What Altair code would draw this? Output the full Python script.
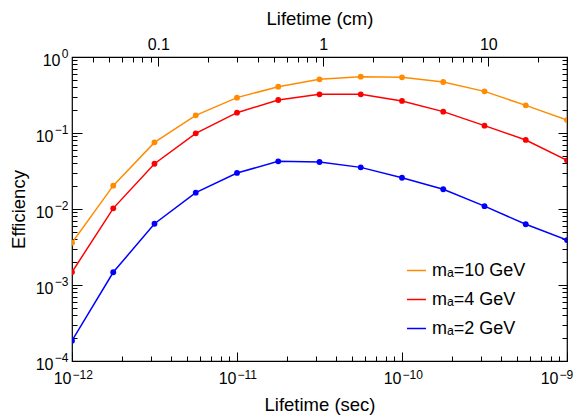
import altair as alt
import pandas as pd

# ---- data ----
lifetime_sec = [1e-12, 1.778e-12, 3.162e-12, 5.623e-12, 1e-11, 1.778e-11, 3.162e-11,
                5.623e-11, 1e-10, 1.778e-10, 3.162e-10, 5.623e-10, 1e-9]
eff_10gev = [3.6e-3, 0.0203, 0.0753, 0.171, 0.292, 0.407, 0.508, 0.551, 0.540, 0.469, 0.353, 0.231, 0.148]
eff_4gev = [1.48e-3, 0.0102, 0.0394, 0.099, 0.185, 0.272, 0.323, 0.323, 0.264, 0.191, 0.125, 0.081, 0.0437]
eff_2gev = [1.85e-4, 1.47e-3, 6.4e-3, 0.0164, 0.0298, 0.0424, 0.0415, 0.0353, 0.0258, 0.0182, 0.0109, 6.3e-3, 3.9e-3]

series_names = ["mₐ=10 GeV", "mₐ=4 GeV", "mₐ=2 GeV"]
series_colors = ["#ff8c00", "#ff0000", "#0000ff"]

x_major = [1e-12, 1e-11, 1e-10, 1e-9]
y_major = [1e-4, 1e-3, 1e-2, 1e-1, 1.0]
cm_major = [0.1, 1, 10]
cm_minor = [0.04, 0.05, 0.06, 0.07, 0.08, 0.09, 0.2, 0.3, 0.4, 0.5, 0.6, 0.7, 0.8, 0.9,
            2, 3, 4, 5, 6, 7, 8, 9, 20, 30]
C_CM_PER_SEC = 3e10

x_minor = [k * 10.0 ** e for e in (-12, -11, -10) for k in range(2, 10)]
y_minor = [k * 10.0 ** e for e in (-4, -3, -2, -1) for k in range(2, 10)]

rows = []
for name, vals in zip(series_names, [eff_10gev, eff_4gev, eff_2gev]):
    for t, v in zip(lifetime_sec, vals):
        rows.append({"tau": t, "eff": v, "series": name})
df = pd.DataFrame(rows)

EXP = "round(log(datum.value)/LN10)"
SUP_EXPR = f"({EXP} < 0 ? '−' : '') + abs({EXP})"

FONT = "Liberation Sans"
FS = 16       # tick labels
FS_SUP = 12   # exponent
FS_T = 18.5   # titles
FS_L = 18     # legend

xscale = alt.Scale(type="log", domain=[1e-12, 1e-9], nice=False)
yscale = alt.Scale(type="log", domain=[1e-4, 1.0], nice=False)

common_axis = dict(domain=False, grid=False, tickColor="black", tickWidth=1,
                   labelFont=FONT, labelColor="black", labelFlush=False, labelOverlap=False,
                   titleFont=FONT, titleFontSize=FS_T, titleFontWeight="normal", titleColor="black")

LAST = "datum.value > 5e-10"

# main lines with bottom/left major ticks (drawn inward), mantissa labels and titles
lines = alt.Chart(df).mark_line(strokeWidth=1.5, clip=True).encode(
    x=alt.X("tau:Q", scale=xscale, axis=alt.Axis(
        orient="bottom", values=x_major, offset=-9, tickSize=9, labelPadding=9,
        labelExpr="'10'", labelAlign="right",
        labelOffset={"condition": {"test": LAST, "value": -9}, "value": -1},
        labelBaseline="top", labelFontSize=FS,
        title="Lifetime (sec)", titlePadding=9, **common_axis)),
    y=alt.Y("eff:Q", scale=yscale, axis=alt.Axis(
        orient="left", values=y_major, offset=-10, tickSize=10,
        labelPadding={"condition": {"test": "datum.value > 0.5", "value": 12}, "value": 19},
        labelExpr="'10'", labelBaseline="middle", labelOffset=3, labelFontSize=FS,
        title="Efficiency", titlePadding=7, **common_axis)),
    color=alt.Color("series:N", scale=alt.Scale(domain=series_names, range=series_colors),
                    sort=series_names,
                    legend=alt.Legend(orient="none", legendX=334, legendY=203, title=None,
                                      symbolType="stroke", symbolStrokeWidth=1.5, symbolSize=361,
                                      labelFont=FONT, labelFontSize=FS_L, labelColor="black",
                                      rowPadding=9, labelOffset=5, padding=0)),
)

points = alt.Chart(df).mark_circle(size=34, opacity=1, clip=True).encode(
    x=alt.X("tau:Q", scale=xscale, axis=None),
    y=alt.Y("eff:Q", scale=yscale, axis=None),
    color=alt.Color("series:N", scale=alt.Scale(domain=series_names, range=series_colors), legend=None),
)

# exponent labels (superscripts)
sup_bl = alt.Chart(df).mark_point(opacity=0).encode(
    x=alt.X("tau:Q", scale=xscale, axis=alt.Axis(
        orient="bottom", values=x_major, ticks=False, labelPadding=8, labelExpr=SUP_EXPR,
        labelAlign="left",
        labelOffset={"condition": {"test": LAST, "value": -8}, "value": 0},
        labelBaseline="top", labelFontSize=FS_SUP,
        title=None, **common_axis)),
    y=alt.Y("eff:Q", scale=yscale, axis=alt.Axis(
        orient="left", values=y_major, ticks=False, labelPadding=4, labelExpr=SUP_EXPR,
        labelAlign="right", labelBaseline="middle", labelOffset=-4, labelFontSize=FS_SUP,
        title=None, **common_axis)),
)

no_labels = dict(labels=False, title=None)

minor_bl = alt.Chart(df).mark_point(opacity=0).encode(
    x=alt.X("tau:Q", scale=xscale, axis=alt.Axis(orient="bottom", values=x_minor, offset=-5, tickSize=5,
                                                 **no_labels, **common_axis)),
    y=alt.Y("eff:Q", scale=yscale, axis=alt.Axis(orient="left", values=y_minor, offset=-5, tickSize=5,
                                                 **no_labels, **common_axis)),
)

major_tr = alt.Chart(df).mark_point(opacity=0).encode(
    x=alt.X("tau:Q", scale=xscale, axis=alt.Axis(
        orient="top", values=[c / C_CM_PER_SEC for c in cm_major], offset=-9, tickSize=9, labelPadding=5,
        labelExpr=f"format(datum.value*{C_CM_PER_SEC}, '~g')", labelFontSize=FS,
        title="Lifetime (cm)", titlePadding=8, **common_axis)),
    y=alt.Y("eff:Q", scale=yscale, axis=alt.Axis(orient="right", values=y_major, offset=-9, tickSize=9,
                                                 **no_labels, **common_axis)),
)

minor_tr = alt.Chart(df).mark_point(opacity=0).encode(
    x=alt.X("tau:Q", scale=xscale, axis=alt.Axis(orient="top", values=[c / C_CM_PER_SEC for c in cm_minor],
                                                 offset=-5, tickSize=5, **no_labels, **common_axis)),
    y=alt.Y("eff:Q", scale=yscale, axis=alt.Axis(orient="right", values=y_minor, offset=-5, tickSize=5,
                                                 **no_labels, **common_axis)),
)

chart = alt.layer(lines, points, sup_bl, minor_bl, major_tr, minor_tr).resolve_axis(
    x="independent", y="independent"
).properties(
    width=495, height=304,
    autosize=alt.AutoSizeParams(type="none"),
    padding={"left": 64, "top": 49, "right": 6, "bottom": 55},
    background="white",
).configure_view(stroke="black", strokeWidth=1.2)

chart.save("out.html", embed_options={"renderer": "svg", "actions": False})
